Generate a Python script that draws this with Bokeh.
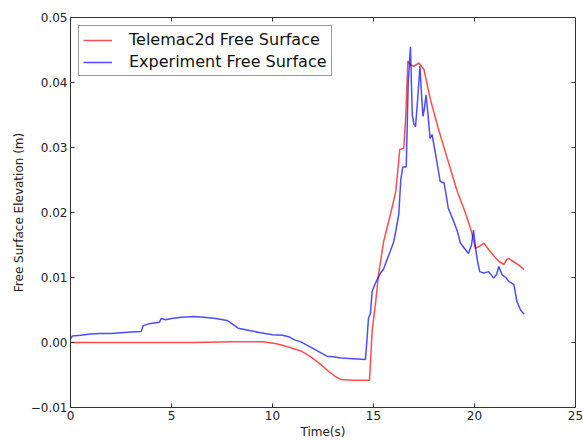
import math
from bokeh.plotting import figure
from bokeh.models import (Range1d, FixedTicker, CustomJSTickFormatter,
                          Legend, LegendItem)
from bokeh.embed import file_html
from bokeh.resources import INLINE

# ---- data ----
t_telemac = [0, 2, 4, 6, 8, 9.5, 10.2, 10.8, 11.4, 11.9, 12.4, 12.8, 13.1, 13.4, 14.0,
             14.8, 14.87, 14.93, 15.1, 15.25, 15.5, 15.7, 15.9, 16.1, 16.22, 16.3, 16.5,
             16.6, 16.7, 16.83, 17.0, 17.25, 17.5, 17.8, 18.2, 18.5, 18.8, 19.15, 19.5,
             19.8, 20.05, 20.25, 20.46, 20.7, 21.0, 21.2, 21.45, 21.6, 21.7, 21.9, 22.2, 22.45]
z_telemac = [0.0, 0.0, 0.0, 0.0, 0.0001, 0.0001, -0.0002, -0.0007, -0.0013, -0.0022,
             -0.0034, -0.0045, -0.0052, -0.0057, -0.0058, -0.0058, -0.0020, 0.0017, 0.0060,
             0.0105, 0.0155, 0.0180, 0.0205, 0.0232, 0.0270, 0.0297, 0.0299, 0.0350, 0.0433,
             0.0427, 0.0425, 0.0430, 0.0420, 0.0376, 0.0330, 0.0299, 0.0268, 0.0232, 0.0204,
             0.0176, 0.0145, 0.0148, 0.0153, 0.0143, 0.0132, 0.0125, 0.0120, 0.0128, 0.0129,
             0.0125, 0.0119, 0.0112]

t_experiment = [0, 0.1, 0.5, 1.0, 1.5, 2.0, 2.5, 3.0, 3.5, 3.6, 3.9, 4.4, 4.5, 4.7, 5.0,
                5.5, 6.1, 6.6, 7.2, 7.75, 7.9, 8.3, 8.8, 9.4, 10.0, 10.5, 10.8, 11.1, 11.4,
                11.7, 12.0, 12.4, 12.7, 13.0, 13.4, 14.0, 14.6, 14.68, 14.75, 14.85, 14.93,
                15.05, 15.2, 15.35, 15.5, 15.7, 15.85, 16.0, 16.1, 16.25, 16.35, 16.45, 16.62,
                16.72, 16.83, 16.92, 17.0, 17.08, 17.2, 17.3, 17.38, 17.45, 17.52, 17.6, 17.7,
                17.8, 17.9, 18.1, 18.3, 18.5, 18.7, 19.0, 19.15, 19.3, 19.5, 19.7, 19.85,
                19.95, 20.05, 20.15, 20.26, 20.46, 20.7, 20.95, 21.1, 21.2, 21.37, 21.55,
                21.7, 21.95, 22.1, 22.28, 22.45]
z_experiment = [0.0006, 0.0010, 0.0011, 0.0013, 0.0014, 0.0014, 0.0015, 0.0016, 0.0017,
                0.0026, 0.0029, 0.0031, 0.0037, 0.0035, 0.0037, 0.0039, 0.0040, 0.0039,
                0.0037, 0.0034, 0.0031, 0.0022, 0.0019, 0.0015, 0.0012, 0.0011, 0.0009,
                0.0004, 0.0001, -0.0004, -0.0009, -0.0016, -0.0021, -0.0022, -0.0024,
                -0.0025, -0.0026, 0.0005, 0.0037, 0.0045, 0.0078, 0.0088, 0.0098, 0.0107,
                0.0113, 0.0130, 0.0142, 0.0155, 0.0171, 0.0197, 0.0250, 0.0270, 0.0270,
                0.0400, 0.0455, 0.0350, 0.0336, 0.0332, 0.0380, 0.0425, 0.0380, 0.0348,
                0.0360, 0.0381, 0.0350, 0.0314, 0.0320, 0.0285, 0.0248, 0.0245, 0.0207,
                0.0184, 0.0171, 0.0153, 0.0145, 0.0137, 0.0150, 0.0173, 0.0145, 0.0125,
                0.0109, 0.0107, 0.0109, 0.0099, 0.0105, 0.0117, 0.0104, 0.0100, 0.0094,
                0.0089, 0.0063, 0.0050, 0.0044]

x_ticks = [0, 5, 10, 15, 20, 25]
y_ticks = [-0.01, 0.0, 0.01, 0.02, 0.03, 0.04, 0.05]
x_min, x_max = 0, 25
y_min, y_max = -0.01, 0.05
series_names = ["Telemac2d Free Surface", "Experiment Free Surface"]

FONT = "DejaVu Sans"
TICK_COLOR = "#333333"

p = figure(width=583, height=441, output_backend="svg", toolbar_location=None,
           x_range=Range1d(x_min, x_max), y_range=Range1d(y_min, y_max),
           min_border_left=70, min_border_right=8, min_border_top=17, min_border_bottom=34)
p.background_fill_color = "white"
p.border_fill_color = "white"
p.outline_line_color = TICK_COLOR
p.outline_line_width = 1
p.xgrid.visible = False
p.ygrid.visible = False

r1 = p.line(t_telemac, z_telemac, line_color="red", line_alpha=0.7, line_width=1.5)
r2 = p.line(t_experiment, z_experiment, line_color="blue", line_alpha=0.7, line_width=1.5)

yfmt = CustomJSTickFormatter(code="""
if (Math.abs(tick) < 1e-9) { return "0.00"; }
return tick < 0 ? "\u2212" + Math.abs(tick).toFixed(2) : tick.toFixed(2);
""")

for ax in p.xaxis:
    ax.ticker = FixedTicker(ticks=x_ticks)
    ax.axis_label = "Time(s)"
for ax in p.yaxis:
    ax.ticker = FixedTicker(ticks=y_ticks)
    ax.formatter = yfmt
    ax.axis_label = "Free Surface Elevation (m)"

for ax in list(p.xaxis) + list(p.yaxis):
    ax.major_tick_in = 4
    ax.major_tick_out = 0
    ax.minor_tick_line_color = None
    ax.axis_line_color = None
    ax.major_tick_line_color = TICK_COLOR
    ax.major_label_text_font = FONT
    ax.major_label_text_font_size = "12px"
    ax.major_label_text_color = "#222222"
    ax.axis_label_text_font = FONT
    ax.axis_label_text_font_size = "12px"
    ax.axis_label_text_font_style = "normal"
    ax.axis_label_text_color = "#222222"
    ax.major_label_standoff = 3
    ax.axis_label_standoff = 2

# mirrored inward tick marks on the top and right frame edges (screen-length rays)
p.ray(x=x_ticks, y=[y_max] * len(x_ticks), length=4, length_units="screen",
      angle=-math.pi / 2, line_color=TICK_COLOR, line_width=1)
p.ray(x=[x_max] * len(y_ticks), y=y_ticks, length=4, length_units="screen",
      angle=math.pi, line_color=TICK_COLOR, line_width=1)

legend = Legend(items=[LegendItem(label=series_names[0], renderers=[r1]),
                       LegendItem(label=series_names[1], renderers=[r2])],
                location="top_left")
legend.margin = 8
legend.padding = 4
legend.spacing = 3
legend.label_height = 18
legend.glyph_height = 18
legend.glyph_width = 29
legend.label_standoff = 17
legend.label_text_font = FONT
legend.label_text_font_size = "16px"
legend.label_text_color = "#111111"
legend.border_line_color = TICK_COLOR
legend.border_line_width = 1
legend.background_fill_alpha = 1
p.add_layout(legend)

open("out.html", "w").write(file_html(p, INLINE))
